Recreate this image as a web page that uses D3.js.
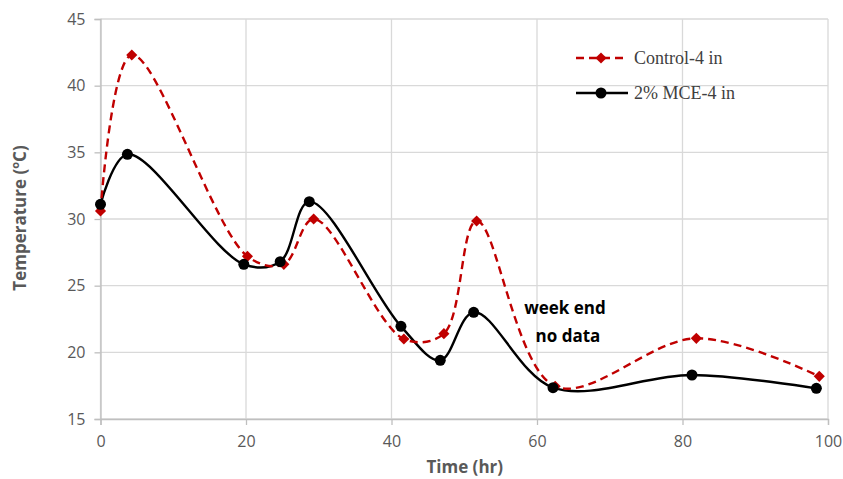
<!DOCTYPE html>
<html><head><meta charset="utf-8">
<script src="https://cdn.jsdelivr.net/npm/d3@7"></script>
<style>body{margin:0;background:#fff}</style>
</head><body>
<svg id="c" width="843" height="479"></svg>
<script>
const controlX = [0, 4.3, 20.2, 25.2, 29.3, 41.7, 47.2, 51.7, 62.5, 81.9, 98.8];
const controlY = [30.6, 42.3, 27.2, 26.6, 30.0, 21.0, 21.4, 29.85, 17.45, 21.05, 18.2];
const mceX = [0, 3.7, 19.7, 24.7, 28.7, 41.3, 46.7, 51.3, 62.2, 81.3, 98.4];
const mceY = [31.1, 34.85, 26.6, 26.8, 31.3, 21.95, 19.4, 23.0, 17.35, 18.3, 17.3];
const xTicks = [0, 20, 40, 60, 80, 100];
const yTicks = [15, 20, 25, 30, 35, 40, 45];
const seriesNames = ["Control-4 in", "2% MCE-4 in"];

const svg = d3.select("#c");
const x = d3.scaleLinear().domain([0, 100]).range([100.5, 828]);
const y = d3.scaleLinear().domain([15, 45]).range([419, 19]);
const grid = "#d9d9d9";

svg.append("g").selectAll("line").data(yTicks).join("line")
  .attr("x1", x(0)).attr("x2", x(100)).attr("y1", d => y(d)).attr("y2", d => y(d))
  .attr("stroke", grid).attr("stroke-width", 1.3);
svg.append("g").selectAll("line").data(xTicks).join("line")
  .attr("y1", y(15)).attr("y2", y(45)).attr("x1", d => x(d)).attr("x2", d => x(d))
  .attr("stroke", grid).attr("stroke-width", 1.3);

const xa = svg.append("g").attr("transform", `translate(0,${y(15)})`)
  .call(d3.axisBottom(x).tickValues(xTicks).tickSize(6).tickPadding(8));
const ya = svg.append("g").attr("transform", `translate(${x(0)},0)`)
  .call(d3.axisLeft(y).tickValues(yTicks).tickSize(6).tickPadding(9));
[xa, ya].forEach(a => {
  a.select(".domain").attr("stroke", "#bfbfbf").attr("stroke-width", 1.3);
  a.selectAll(".tick line").attr("stroke", "#bfbfbf").attr("stroke-width", 1.3);
  a.selectAll("text").attr("fill", "#595959").attr("font-size", 16)
    .attr("font-family", "Open Sans, sans-serif");
});
xa.selectAll("text").attr("dy", "0.9em");

svg.append("text").attr("x", x(50) + 0.5).attr("y", 473).attr("text-anchor", "middle")
  .attr("font-family", "Open Sans, sans-serif").attr("font-weight", "bold")
  .attr("font-size", 17).attr("fill", "#595959").text("Time (hr)");
const yt = svg.append("text").attr("transform", "translate(26,218) rotate(-90)")
  .attr("text-anchor", "middle").attr("font-family", "Open Sans, sans-serif")
  .attr("font-weight", "bold").attr("font-size", 17).attr("fill", "#595959");
yt.append("tspan").text("Temperature (");
yt.append("tspan").attr("font-size", 11).attr("dy", -7).text("o");
yt.append("tspan").attr("dy", 7).text("C)");

const line = d3.line().x(d => x(d[0])).y(d => y(d[1])).curve(d3.curveCatmullRom.alpha(0.5));
const cData = controlX.map((v, i) => [v, controlY[i]]);
const mData = mceX.map((v, i) => [v, mceY[i]]);

svg.append("defs").append("clipPath").attr("id", "clip").append("rect")
  .attr("x", x(0) - 8).attr("y", y(45)).attr("width", x(100) - x(0) + 8).attr("height", y(15) - y(45));

const g = svg.append("g").attr("clip-path", "url(#clip)");
g.append("path").attr("d", line(mData)).attr("fill", "none").attr("stroke", "#000").attr("stroke-width", 2.4);
g.append("path").attr("d", line(cData)).attr("fill", "none").attr("stroke", "#c00000")
  .attr("stroke-width", 2.4).attr("stroke-dasharray", "8,5");

const diamond = d3.symbol().type(d3.symbolSquare).size(62);
svg.append("g").selectAll("path").data(cData).join("path")
  .attr("transform", d => `translate(${x(d[0])},${y(d[1])}) rotate(45)`).attr("d", diamond).attr("fill", "#c00000");
svg.append("g").selectAll("circle").data(mData).join("circle")
  .attr("cx", d => x(d[0])).attr("cy", d => y(d[1])).attr("r", 5.5).attr("fill", "#000");

const ann = svg.append("text").attr("text-anchor", "middle").attr("font-family", "Open Sans, sans-serif")
  .attr("font-weight", "bold").attr("font-size", 17).attr("fill", "#000");
ann.append("tspan").attr("x", 565).attr("y", 314).text("week end");
ann.append("tspan").attr("x", 568).attr("y", 342).text("no data");

const leg = svg.append("g");
leg.append("line").attr("x1", 576).attr("x2", 628).attr("y1", 58).attr("y2", 58)
  .attr("stroke", "#c00000").attr("stroke-width", 2.4).attr("stroke-dasharray", "8,5");
leg.append("path").attr("transform", "translate(601,58) rotate(45)").attr("d", diamond).attr("fill", "#c00000");
leg.append("line").attr("x1", 576).attr("x2", 628).attr("y1", 93).attr("y2", 93)
  .attr("stroke", "#000").attr("stroke-width", 2.4);
leg.append("circle").attr("cx", 601).attr("cy", 93).attr("r", 5.5).attr("fill", "#000");
leg.selectAll("text").data(seriesNames).join("text")
  .attr("x", 634).attr("y", (d, i) => 64 + i * 35)
  .attr("font-family", "Liberation Serif, serif").attr("font-size", 18).attr("fill", "#404040").text(d => d);
</script>
</body></html>
